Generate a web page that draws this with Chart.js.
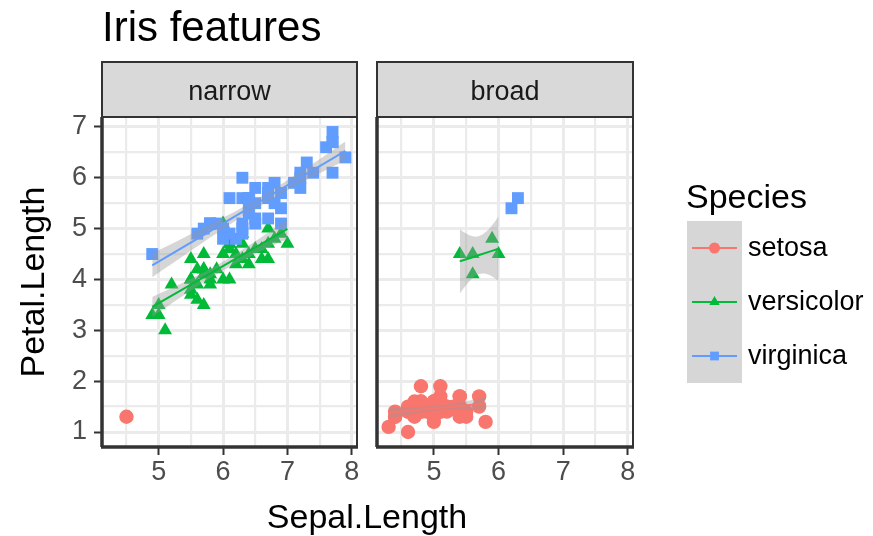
<!DOCTYPE html>
<html>
<head>
<meta charset="utf-8">
<title>Iris features</title>
<script src="https://cdn.jsdelivr.net/npm/chart.js@4.4.1/dist/chart.umd.min.js"></script>
<style>
  body { margin: 0; background: #fff; font-family: "Liberation Sans", Arial, sans-serif; }
  #wrap { position: relative; width: 873px; height: 536px; overflow: hidden; }
  #wrap canvas { position: absolute; left: 0; top: 0; }
  .txt { position: absolute; white-space: nowrap; color: #000; }
</style>
</head>
<body>
<div id="wrap">
  <canvas id="narrowChart" width="873" height="536"></canvas>
  <canvas id="broadChart" width="873" height="536"></canvas>
  <div class="txt" style="left:102px;top:6px;font-size:42px;line-height:42px;">Iris features</div>
  <div class="txt" style="left:167px;width:400px;text-align:center;top:499px;font-size:34px;line-height:34px;">Sepal.Length</div>
  <div class="txt" style="left:-168px;width:400px;text-align:center;top:265px;font-size:34px;line-height:34px;transform:rotate(-90deg);">Petal.Length</div>
  <div class="txt" style="left:686px;top:179px;font-size:34px;line-height:34px;">Species</div>
  <div class="txt" style="left:748px;top:234px;font-size:27px;line-height:27px;">setosa</div>
  <div class="txt" style="left:748px;top:288px;font-size:27px;line-height:27px;">versicolor</div>
  <div class="txt" style="left:748px;top:342px;font-size:27px;line-height:27px;">virginica</div>
</div>
<script>
// axis breaks and labels
const xGrid = [4.5, 5, 5.5, 6, 6.5, 7, 7.5, 8];
const yGrid = [1, 1.5, 2, 2.5, 3, 3.5, 4, 4.5, 5, 5.5, 6, 6.5, 7];
const xTickLabels = [5, 6, 7, 8];
const yTickLabels = [1, 2, 3, 4, 5, 6, 7];
const xRange = [4.12, 8.08];
const yRange = [0.705, 7.195];

// narrow panel
const narrowSetosaX = [4.5];
const narrowSetosaY = [1.3];
const narrowVersicolorX = [7.0, 6.4, 6.9, 5.5, 6.5, 5.7, 6.3, 4.9, 6.6, 5.2, 5.0, 5.9, 6.0, 6.1, 5.6, 6.7,
  5.8, 6.2, 5.6, 6.1, 6.3, 6.1, 6.4, 6.6, 6.8, 6.7, 6.0, 5.7, 5.5, 5.5, 5.8, 6.0, 6.7, 6.3,
  5.5, 5.5, 6.1, 5.8, 5.0, 5.6, 5.7, 5.7, 6.2, 5.1, 5.7];
const narrowVersicolorY = [4.7, 4.5, 4.9, 4.0, 4.6, 4.5, 4.7, 3.3, 4.6, 3.9, 3.5, 4.2, 4.0, 4.7, 3.6, 4.4,
  4.1, 4.5, 3.9, 4.0, 4.9, 4.7, 4.3, 4.4, 4.8, 5.0, 4.5, 3.5, 3.8, 3.7, 3.9, 5.1, 4.7, 4.4,
  4.0, 4.4, 4.6, 4.0, 3.3, 4.2, 4.2, 4.2, 4.3, 3.0, 4.1];
const narrowVirginicaX = [6.3, 5.8, 7.1, 6.3, 6.5, 7.6, 4.9, 7.3, 6.7, 7.2, 6.5, 6.4, 6.8, 5.7, 5.8, 6.4,
  6.5, 7.7, 7.7, 6.0, 6.9, 5.6, 7.7, 6.3, 6.7, 7.2, 6.2, 6.1, 6.4, 7.2, 7.4, 7.9, 6.4, 6.3,
  6.1, 7.7, 6.4, 6.0, 6.9, 6.7, 6.9, 5.8, 6.8, 6.7, 6.7, 6.3, 6.5, 5.9];
const narrowVirginicaY = [6.0, 5.1, 5.9, 5.6, 5.8, 6.6, 4.5, 6.3, 5.8, 6.1, 5.1, 5.3, 5.5, 5.0, 5.1, 5.3,
  5.5, 6.7, 6.9, 5.0, 5.7, 4.9, 6.7, 4.9, 5.7, 6.0, 4.8, 4.9, 5.6, 5.8, 6.1, 6.4, 5.6, 5.1,
  5.6, 6.1, 5.5, 4.8, 5.4, 5.6, 5.1, 5.1, 5.9, 5.7, 5.2, 5.0, 5.2, 5.1];

// broad panel
const broadSetosaX = [5.1, 4.9, 4.7, 4.6, 5.0, 5.4, 4.6, 5.0, 4.4, 4.9, 5.4, 4.8, 4.8, 4.3, 5.8, 5.7,
  5.4, 5.1, 5.7, 5.1, 5.4, 5.1, 4.6, 5.1, 4.8, 5.0, 5.0, 5.2, 5.2, 4.7, 4.8, 5.4, 5.2, 5.5,
  4.9, 5.0, 5.5, 4.9, 4.4, 5.1, 5.0, 4.4, 5.0, 5.1, 4.8, 5.1, 4.6, 5.3, 5.0];
const broadSetosaY = [1.4, 1.4, 1.3, 1.5, 1.4, 1.7, 1.4, 1.5, 1.4, 1.5, 1.5, 1.6, 1.4, 1.1, 1.2, 1.5,
  1.3, 1.4, 1.7, 1.5, 1.7, 1.5, 1.0, 1.7, 1.9, 1.6, 1.6, 1.5, 1.4, 1.6, 1.6, 1.5, 1.5, 1.4,
  1.5, 1.2, 1.3, 1.4, 1.3, 1.5, 1.3, 1.3, 1.6, 1.9, 1.4, 1.6, 1.4, 1.5, 1.4];
const broadVersicolorX = [5.6, 5.9, 5.4, 6.0, 5.6];
const broadVersicolorY = [4.5, 4.8, 4.5, 4.5, 4.1];
const broadVirginicaX = [6.3, 6.2];
const broadVirginicaY = [5.6, 5.4];

// linear fits with 95% bands, sampled along each group's x range
const narrowVersicolorFitX = [4.9, 5.425, 5.95, 6.475, 7.0];
const narrowVersicolorFit = [3.460, 3.843, 4.227, 4.610, 4.993];
const narrowVersicolorLo = [3.264, 3.719, 4.140, 4.488, 4.800];
const narrowVersicolorHi = [3.656, 3.967, 4.314, 4.732, 5.186];

const narrowVirginicaFitX = [4.9, 5.65, 6.4, 7.15, 7.9];
const narrowVirginicaFit = [4.276, 4.839, 5.402, 5.966, 6.529];
const narrowVirginicaLo = [4.044, 4.693, 5.316, 5.859, 6.344];
const narrowVirginicaHi = [4.508, 4.985, 5.488, 6.073, 6.714];

const broadSetosaFitX = [4.3, 4.675, 5.05, 5.425, 5.8];
const broadSetosaFit = [1.377, 1.423, 1.469, 1.515, 1.561];
const broadSetosaLo = [1.264, 1.354, 1.420, 1.439, 1.439];
const broadSetosaHi = [1.490, 1.492, 1.518, 1.591, 1.683];

const broadVersicolorFitX = [5.4, 5.5, 5.6, 5.7, 5.8, 5.9, 6.0];
const broadVersicolorFit = [4.355, 4.397, 4.438, 4.480, 4.522, 4.563, 4.605];
const broadVersicolorLo = [3.722, 3.892, 4.028, 4.107, 4.112, 4.058, 3.972];
const broadVersicolorHi = [4.988, 4.902, 4.848, 4.853, 4.932, 5.068, 5.238];

const broadVirginicaFitX = [6.2, 6.3];
const broadVirginicaFit = [5.4, 5.6];

const speciesNames = ['setosa', 'versicolor', 'virginica'];
const speciesColors = ['#F8766D', '#00BA38', '#619CFF'];
const speciesShapes = ['circle', 'triangle', 'rect'];
const speciesRadius = [7.2, 8, 8.4];
const legendRadius = [5.5, 6, 6.2];
const bandFill = 'rgba(153,153,153,0.4)';
const ink = '#333333';
const fontFamily = '"Liberation Sans", Arial, sans-serif';

Chart.defaults.font.family = fontFamily;

const pts = (xs, ys) => xs.map((x, i) => ({ x, y: ys[i] }));
const isOn = (list, v) => list.some(t => Math.abs(t - v) < 1e-9);

// draw order: bigger order goes first
let drawOrder = 1000;

function pointSet(s, xs, ys) {
  return {
    label: speciesNames[s], data: pts(xs, ys), showLine: false,
    pointStyle: speciesShapes[s], pointRadius: speciesRadius[s], pointHoverRadius: speciesRadius[s],
    pointBackgroundColor: speciesColors[s], pointBorderWidth: 0,
    order: drawOrder--
  };
}

function smoothSets(s, xs, fit, lo, hi) {
  const sets = [];
  if (lo) {
    sets.push({ data: pts(xs, lo), borderWidth: 0, pointRadius: 0, tension: 0.4, fill: false, order: drawOrder-- });
    sets.push({ data: pts(xs, hi), borderWidth: 0, pointRadius: 0, tension: 0.4, fill: '-1',
      backgroundColor: bandFill, order: drawOrder-- });
  }
  sets.push({ data: pts(xs, fit), borderColor: speciesColors[s], borderWidth: 2, pointRadius: 0,
    tension: 0, fill: false, order: drawOrder-- });
  return sets;
}

// strip on top of the panel plus the panel frame
const panelFrame = {
  id: 'panelFrame',
  afterDraw(chart, args, opts) {
    const { ctx, chartArea: a } = chart;
    const w = a.right - a.left;
    ctx.save();
    ctx.fillStyle = '#d9d9d9';
    ctx.fillRect(a.left, a.top - 55, w, 55);
    ctx.strokeStyle = ink;
    ctx.lineWidth = 2;
    ctx.strokeRect(a.left, a.top - 55, w, 55);
    ctx.fillStyle = '#1a1a1a';
    ctx.font = '27px ' + fontFamily;
    ctx.textAlign = 'center';
    ctx.textBaseline = 'alphabetic';
    ctx.fillText(opts.label, a.left + w / 2, a.top - 17);
    ctx.strokeRect(a.left, a.top, w, a.bottom - a.top);
    ctx.lineWidth = 3.5;
    ctx.beginPath();
    ctx.moveTo(a.left - 1, a.bottom);
    ctx.lineTo(a.right + 1, a.bottom);
    ctx.moveTo(a.left, a.top);
    ctx.lineTo(a.left, a.bottom);
    ctx.stroke();
    ctx.restore();
  }
};

// legend keys: grey band swatch with coloured line and marker
const legendKeys = {
  id: 'legendKeys',
  afterDraw(chart) {
    const ctx = chart.ctx;
    const left = 687, top = 221, size = 54;
    ctx.save();
    ctx.fillStyle = '#d6d6d6';
    ctx.fillRect(left, top, 55, size * speciesNames.length);
    speciesNames.forEach((name, i) => {
      const cy = top + size * i + size / 2;
      ctx.strokeStyle = speciesColors[i];
      ctx.lineWidth = 2;
      ctx.beginPath();
      ctx.moveTo(left + 5, cy);
      ctx.lineTo(left + 50, cy);
      ctx.stroke();
      ctx.fillStyle = speciesColors[i];
      Chart.helpers.drawPoint(ctx, { pointStyle: speciesShapes[i], radius: legendRadius[i], rotation: 0, borderWidth: 0 },
        left + 27.5, cy);
    });
    ctx.restore();
  }
};

function axes(showY, yWidth) {
  const tickFont = { size: 27 };
  return {
    x: {
      type: 'linear', min: xRange[0], max: xRange[1],
      afterBuildTicks: sc => { sc.ticks = xGrid.map(v => ({ value: v })); },
      afterFit: sc => { sc.height = 89; },
      ticks: {
        autoSkip: false, maxRotation: 0, padding: 1, color: '#4d4d4d', font: tickFont,
        callback: v => isOn(xTickLabels, v) ? String(v) : ''
      },
      grid: {
        color: '#ebebeb',
        lineWidth: c => isOn(xTickLabels, c.tick.value) ? 3 : 2.2,
        tickColor: c => isOn(xTickLabels, c.tick.value) ? ink : 'rgba(0,0,0,0)',
        tickWidth: 2, tickLength: 8, drawTicks: true
      },
      border: { display: false }
    },
    y: {
      type: 'linear', min: yRange[0], max: yRange[1],
      afterBuildTicks: sc => { sc.ticks = yGrid.map(v => ({ value: v })); },
      afterFit: sc => { sc.width = yWidth; },
      ticks: {
        display: showY, autoSkip: false, padding: 7, color: '#4d4d4d', font: tickFont,
        callback: v => isOn(yTickLabels, v) ? String(v) : ''
      },
      grid: {
        color: '#ebebeb',
        lineWidth: c => isOn(yTickLabels, c.tick.value) ? 3 : 2.2,
        tickColor: c => isOn(yTickLabels, c.tick.value) ? ink : 'rgba(0,0,0,0)',
        tickWidth: 2, tickLength: 8, drawTicks: showY
      },
      border: { display: false }
    }
  };
}

function baseOptions(label, padding, showY, yWidth) {
  return {
    responsive: false, animation: false, devicePixelRatio: 1,
    layout: { padding },
    scales: axes(showY, yWidth),
    plugins: { legend: { display: false }, tooltip: { enabled: false }, panelFrame: { label } }
  };
}

drawOrder = 1000;
const narrowDatasets = [
  pointSet(0, narrowSetosaX, narrowSetosaY),
  pointSet(1, narrowVersicolorX, narrowVersicolorY),
  pointSet(2, narrowVirginicaX, narrowVirginicaY),
  ...smoothSets(1, narrowVersicolorFitX, narrowVersicolorFit, narrowVersicolorLo, narrowVersicolorHi),
  ...smoothSets(2, narrowVirginicaFitX, narrowVirginicaFit, narrowVirginicaLo, narrowVirginicaHi)
];

drawOrder = 1000;
const broadDatasets = [
  pointSet(0, broadSetosaX, broadSetosaY),
  pointSet(1, broadVersicolorX, broadVersicolorY),
  pointSet(2, broadVirginicaX, broadVirginicaY),
  ...smoothSets(0, broadSetosaFitX, broadSetosaFit, broadSetosaLo, broadSetosaHi),
  ...smoothSets(1, broadVersicolorFitX, broadVersicolorFit, broadVersicolorLo, broadVersicolorHi),
  ...smoothSets(2, broadVirginicaFitX, broadVirginicaFit)
];

new Chart(document.getElementById('narrowChart'), {
  type: 'line',
  data: { datasets: narrowDatasets },
  options: baseOptions('narrow', { left: 0, top: 117, right: 516, bottom: 0 }, true, 102),
  plugins: [panelFrame]
});

new Chart(document.getElementById('broadChart'), {
  type: 'line',
  data: { datasets: broadDatasets },
  options: baseOptions('broad', { left: 337, top: 117, right: 240, bottom: 0 }, false, 40),
  plugins: [panelFrame, legendKeys]
});
</script>
</body>
</html>
